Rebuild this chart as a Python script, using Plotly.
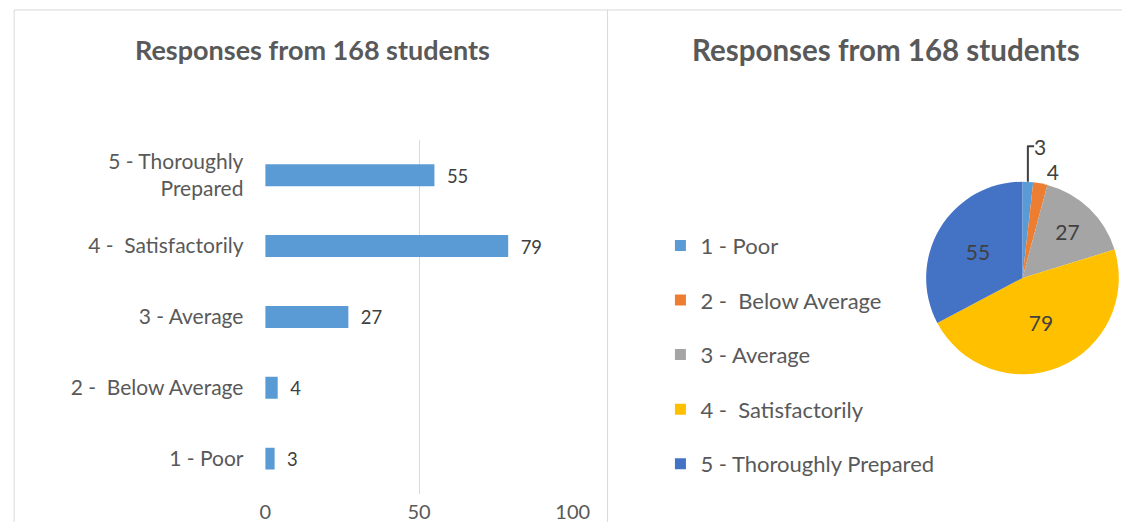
import plotly.graph_objects as go

categories = ["1 - Poor", "2 -\u00a0 Below Average", "3 - Average", "4 -\u00a0 Satisfactorily", "5 - Thoroughly Prepared"]
bar_labels = ["1 - Poor", "2 -\u00a0 Below Average", "3 - Average", "4 -\u00a0 Satisfactorily", "5 - Thoroughly<br>Prepared"]
values = [3, 4, 27, 79, 55]
slice_colors = ["#5B9BD5", "#ED7D31", "#A5A5A5", "#FFC000", "#4472C4"]
bar_color = "#5B9BD5"
x_ticks = [0, 50, 100]
title_text = "Responses from 168 students"

OFF = 8          # default page body margin
SX = 0.984       # observed horizontal capture scale
W, H = 1146 - 2 * OFF, 531 - 2 * OFF
FONT = "Lato"
GREY = "#595959"
DARK = "#404040"

def px(x):
    return (x / SX - OFF) / W

def py(y):
    return 1 - (y - OFF) / H

fig = go.Figure()

fig.add_trace(go.Bar(
    x=values, y=bar_labels, orientation="h",
    marker=dict(color=bar_color, line=dict(width=0)),
    width=0.31,
    text=["\u00a0\u00a0" + str(v) for v in values], textposition="outside",
    textfont=dict(family=FONT, size=21, color=DARK),
    cliponaxis=False, showlegend=False,
    xaxis="x", yaxis="y",
))

text_pos = ["outside" if v < 10 else "inside" for v in values]
fig.add_trace(go.Pie(
    labels=categories, values=values, sort=False,
    direction="clockwise", rotation=0,
    marker=dict(colors=slice_colors, line=dict(width=0)),
    textinfo="value", textposition=text_pos,
    insidetextfont=dict(family=FONT, size=21, color=DARK),
    outsidetextfont=dict(family=FONT, size=21, color=DARK),
    domain=dict(x=[px(923), px(1117)], y=[py(375), py(182)]),
    showlegend=False,
))

# legend entries (one per pie category)
for i, (c, col) in enumerate(zip(categories, slice_colors)):
    fig.add_trace(go.Scatter(
        x=[None], y=[None], mode="markers", name=c,
        marker=dict(symbol="square", size=11, color=col),
        legendgroup=f"g{i}", showlegend=True,
        xaxis="x", yaxis="y",
    ))

fig.update_layout(
    width=W, height=H,
    margin=dict(l=0, r=0, t=0, b=0),
    paper_bgcolor="white", plot_bgcolor="white",
    font=dict(family=FONT, color=GREY, size=21),
    xaxis=dict(
        domain=[px(260), px(570)], range=[-0.3, 100.3],
        tickvals=x_ticks, showgrid=True, gridcolor="#D9D9D9", gridwidth=1,
        zeroline=False, showline=False, ticks="",
        tickfont=dict(family=FONT, size=20, color=GREY),
        ticklabelstandoff=4, fixedrange=True,
    ),
    yaxis=dict(
        domain=[py(495), py(140)], range=[-0.5, 4.5],
        showgrid=False, zeroline=False, showline=False, ticks="",
        tickfont=dict(family=FONT, size=21, color=GREY),
        ticklabelstandoff=20, fixedrange=True,
    ),
    legend=dict(
        x=px(657), y=py(225), xanchor="left", yanchor="top",
        font=dict(family=FONT, size=22, color=GREY),
        tracegroupgap=23, itemwidth=30, bgcolor="rgba(0,0,0,0)",
    ),
    annotations=[
        dict(text=f"<b>{title_text}</b>", x=px(308), y=py(50), xref="paper", yref="paper",
             xanchor="center", yanchor="middle",
             showarrow=False, font=dict(family=FONT, size=27, color=GREY)),
        dict(text=f"<b>{title_text}</b>", x=px(883), y=py(50), xref="paper", yref="paper",
             xanchor="center", yanchor="middle",
             showarrow=False, font=dict(family=FONT, size=29.5, color=GREY)),
    ],
    shapes=[
        dict(type="line", xref="paper", yref="paper", x0=px(9), x1=1, y0=py(10), y1=py(10),
             line=dict(color="#D9D9D9", width=1)),
        dict(type="line", xref="paper", yref="paper", x0=px(9), x1=px(9), y0=py(10), y1=0,
             line=dict(color="#D9D9D9", width=1)),
        dict(type="line", xref="paper", yref="paper", x0=px(604), x1=px(604), y0=py(10), y1=0,
             line=dict(color="#D9D9D9", width=1)),
    ],
)

fig.write_html("out.html")
